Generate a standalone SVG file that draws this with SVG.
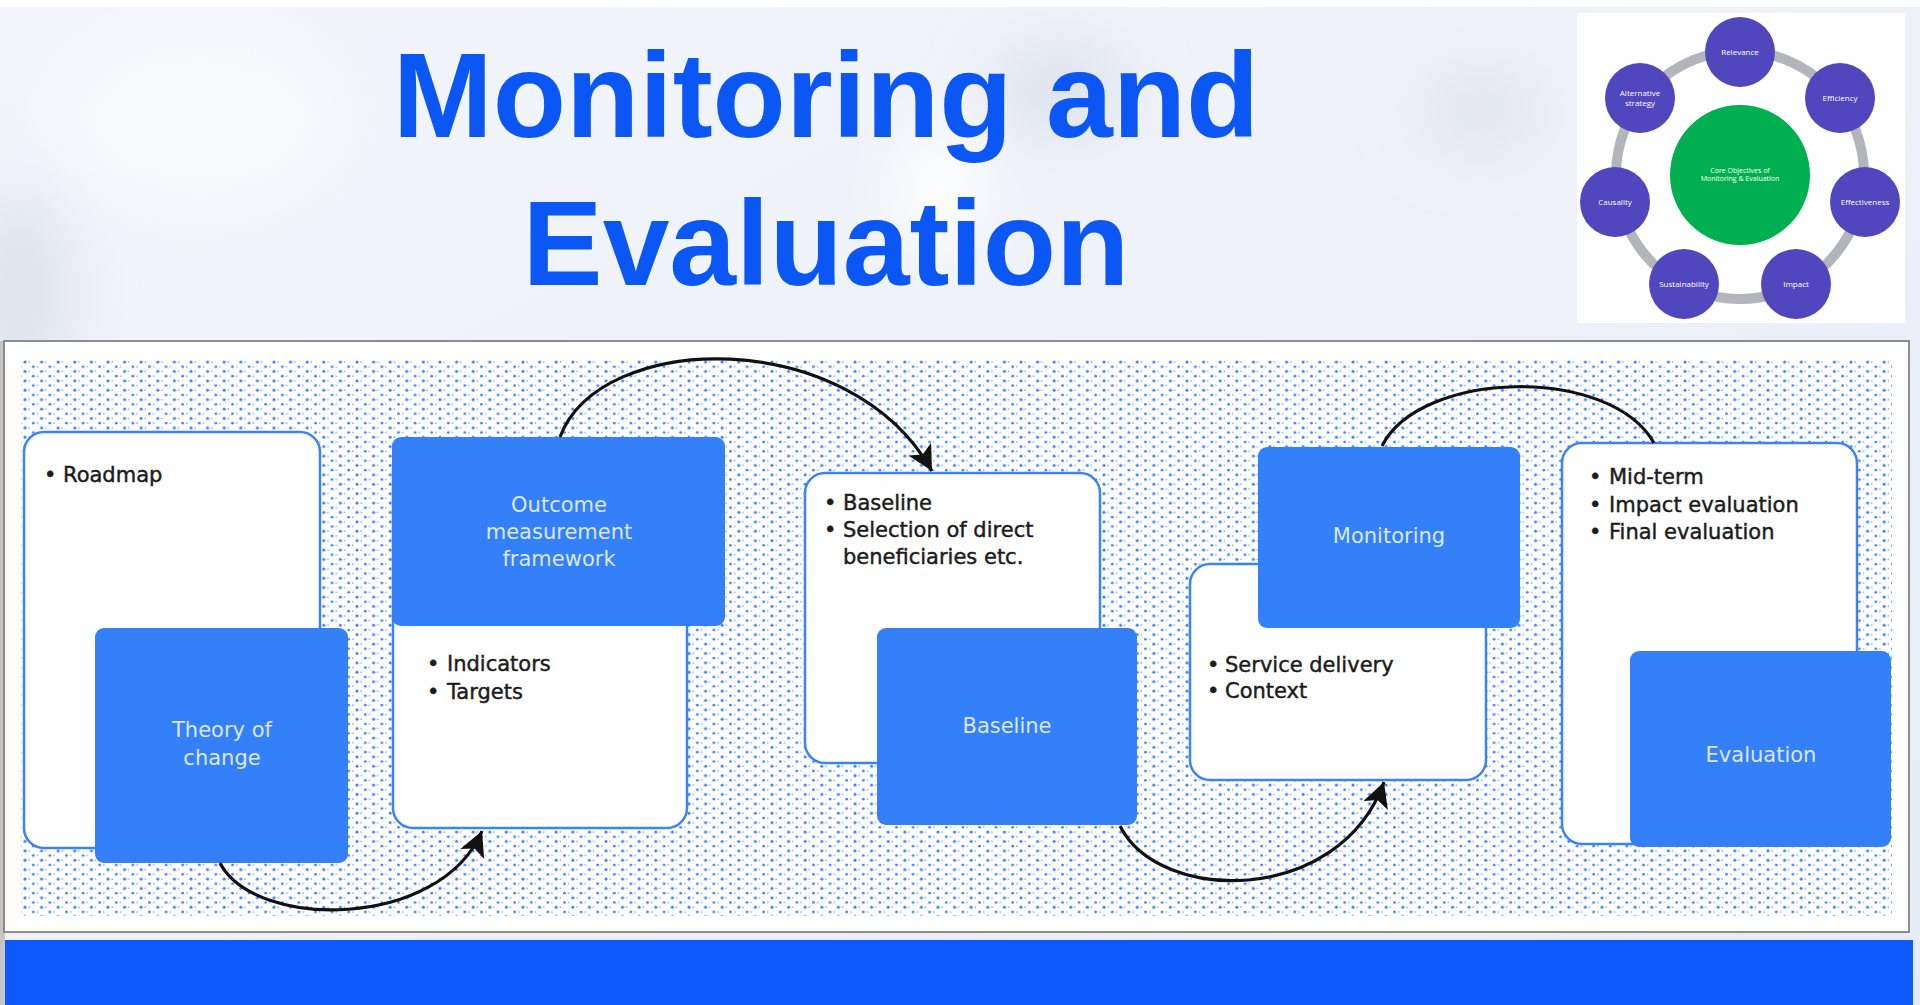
<svg xmlns="http://www.w3.org/2000/svg" width="1920" height="1005" viewBox="0 0 1920 1005">
  <defs>
    <linearGradient id="bgGrad" x1="0" y1="0" x2="1" y2="1">
      <stop offset="0" stop-color="#f3f5fb"/>
      <stop offset="0.5" stop-color="#eef1f8"/>
      <stop offset="1" stop-color="#e6ebf5"/>
    </linearGradient>
    <filter id="soft" x="-50%" y="-50%" width="200%" height="200%">
      <feGaussianBlur stdDeviation="30"/>
    </filter>
    <pattern id="dots" patternUnits="userSpaceOnUse" x="23" y="360" width="16.6" height="9.4">
      <circle cx="2" cy="2" r="1.5" fill="#3b83f0"/>
      <circle cx="10.3" cy="6.7" r="1.4" fill="#3b83f0"/>
      <circle cx="6.15" cy="2" r="0.8" fill="#7aa9f4"/>
      <circle cx="14.45" cy="6.7" r="0.8" fill="#7aa9f4"/>
    </pattern>
    <marker id="arrow" markerUnits="userSpaceOnUse" markerWidth="30" markerHeight="28" refX="25" refY="13" orient="auto">
      <path d="M0,0 L25,13 L0,26 L6,13 Z" fill="#111"/>
    </marker>
    <style>
      .title { font-family: "Liberation Sans", Arial, sans-serif; font-weight: bold; font-size: 120px; fill: #0b57f6; }
      .card { fill: #ffffff; stroke: #3d83f5; stroke-width: 2.5; }
      .head { fill: #3380f8; }
      .body { font-family: "DejaVu Sans", "Noto Sans", sans-serif; font-size: 21px; fill: #1c1c1c; stroke: #1c1c1c; stroke-width: 0.45; }
      .lbl { font-family: "DejaVu Sans", "Noto Sans", sans-serif; font-size: 21px; fill: #dce7fb; text-anchor: middle; }
      .conn { fill: none; stroke: #111; stroke-width: 3.2; }
      .ring { fill: none; stroke: #b3b5ba; stroke-width: 10; }
      .obj { fill: #5047bf; }
      .objt { font-family: "Open Sans", "Noto Sans", sans-serif; font-size: 8px; fill: #ffffff; text-anchor: middle; }
      .coret { font-family: "Open Sans", "Noto Sans", sans-serif; font-size: 7px; fill: #ffffff; text-anchor: middle; }
    </style>
  </defs>

  <!-- background -->
  <rect x="0" y="0" width="1920" height="1005" fill="url(#bgGrad)"/>
  <g filter="url(#soft)">
    <ellipse cx="20" cy="290" rx="50" ry="100" fill="#dde2ec"/>
    <ellipse cx="1060" cy="90" rx="70" ry="45" fill="#dde2ec"/>
    <ellipse cx="200" cy="120" rx="140" ry="90" fill="#f8f9fd"/>
    <ellipse cx="940" cy="190" rx="40" ry="60" fill="#ffffff"/>
    <ellipse cx="1480" cy="110" rx="60" ry="40" fill="#e0e4ee"/>
  </g>
  <rect x="0" y="0" width="1920" height="7" fill="#ffffff"/>
  <rect x="0" y="341" width="5" height="664" fill="#c8c4c2"/>

  <!-- title -->
  <text class="title" x="826" y="137" text-anchor="middle">Monitoring and</text>
  <text class="title" x="826" y="285" text-anchor="middle">Evaluation</text>

  <!-- core objectives picture -->
  <g id="core-objectives">
    <rect x="1577" y="13" width="328" height="310" fill="#ffffff"/>
    <circle class="ring" cx="1740" cy="175" r="124"/>
    <circle cx="1740" cy="175" r="70" fill="#00b050"/>
    <text class="coret" x="1740" y="173">Core Objectives of</text>
    <text class="coret" x="1740" y="181">Monitoring &amp; Evaluation</text>
    <circle class="obj" cx="1740" cy="52" r="35"/>
    <text class="objt" x="1740" y="55">Relevance</text>
    <circle class="obj" cx="1840" cy="98" r="35"/>
    <text class="objt" x="1840" y="101">Efficiency</text>
    <circle class="obj" cx="1865" cy="202" r="35"/>
    <text class="objt" x="1865" y="205">Effectiveness</text>
    <circle class="obj" cx="1796" cy="284" r="35"/>
    <text class="objt" x="1796" y="287">Impact</text>
    <circle class="obj" cx="1684" cy="284" r="35"/>
    <text class="objt" x="1684" y="287">Sustainability</text>
    <circle class="obj" cx="1615" cy="202" r="35"/>
    <text class="objt" x="1615" y="205">Causality</text>
    <circle class="obj" cx="1640" cy="98" r="35"/>
    <text class="objt" x="1640" y="96">Alternative</text>
    <text class="objt" x="1640" y="106">strategy</text>
  </g>

  <!-- main panel -->
  <rect x="4" y="341" width="1905" height="591" fill="#ffffff" stroke="#8c8c8c" stroke-width="2"/>
  <rect x="21" y="359" width="1871" height="557" fill="url(#dots)"/>

  <!-- bottom bar -->
  <rect x="5" y="940" width="1908" height="65" fill="#0d59fd"/>

  <!-- nodes -->
  <g id="theory-of-change">
    <rect class="card" x="24" y="432" width="296" height="416" rx="20"/>
    <text class="body"><tspan x="44" y="482">•</tspan><tspan x="63" y="482">Roadmap</tspan></text>
    <rect class="head" x="95" y="628" width="253" height="235" rx="9"/>
    <text class="lbl" x="222" y="737">Theory of</text>
    <text class="lbl" x="222" y="765">change</text>
  </g>

  <g id="outcome-measurement-framework">
    <rect class="card" x="393" y="450" width="294" height="378" rx="20"/>
    <rect class="head" x="392" y="437" width="333" height="189" rx="9"/>
    <text class="lbl" x="559" y="512">Outcome</text>
    <text class="lbl" x="559" y="539">measurement</text>
    <text class="lbl" x="559" y="566">framework</text>
    <text class="body"><tspan x="427" y="671">•</tspan><tspan x="447" y="671">Indicators</tspan></text>
    <text class="body"><tspan x="427" y="699">•</tspan><tspan x="447" y="699">Targets</tspan></text>
  </g>

  <g id="baseline">
    <rect class="card" x="805" y="473" width="295" height="290" rx="20"/>
    <text class="body"><tspan x="824" y="510">•</tspan><tspan x="843" y="510">Baseline</tspan></text>
    <text class="body"><tspan x="824" y="537">•</tspan><tspan x="843" y="537">Selection of direct</tspan></text>
    <text class="body" x="843" y="564">beneficiaries etc.</text>
    <rect class="head" x="877" y="628" width="260" height="197" rx="9"/>
    <text class="lbl" x="1007" y="733">Baseline</text>
  </g>

  <g id="monitoring">
    <rect class="card" x="1190" y="564" width="296" height="216" rx="20"/>
    <rect class="head" x="1258" y="447" width="262" height="181" rx="9"/>
    <text class="lbl" x="1389" y="543">Monitoring</text>
    <text class="body"><tspan x="1207" y="672">•</tspan><tspan x="1225" y="672">Service delivery</tspan></text>
    <text class="body"><tspan x="1207" y="698">•</tspan><tspan x="1225" y="698">Context</tspan></text>
  </g>

  <g id="evaluation">
    <rect class="card" x="1562" y="443" width="295" height="401" rx="20"/>
    <text class="body"><tspan x="1589" y="484">•</tspan><tspan x="1609" y="484">Mid-term</tspan></text>
    <text class="body"><tspan x="1589" y="512">•</tspan><tspan x="1609" y="512">Impact evaluation</tspan></text>
    <text class="body"><tspan x="1589" y="539">•</tspan><tspan x="1609" y="539">Final evaluation</tspan></text>
    <rect class="head" x="1630" y="651" width="261" height="196" rx="9"/>
    <text class="lbl" x="1761" y="762">Evaluation</text>
  </g>

  <!-- connectors -->
  <g id="connectors">
    <path class="conn" d="M220,863 C255,930 440,930 482,831" marker-end="url(#arrow)"/>
    <path class="conn" d="M560,437 C600,330 850,325 932,471" marker-end="url(#arrow)"/>
    <path class="conn" d="M1120,826 C1160,905 1340,905 1384,782" marker-end="url(#arrow)"/>
    <path class="conn" d="M1382,446 C1420,370 1610,365 1654,443"/>
  </g>
</svg>
